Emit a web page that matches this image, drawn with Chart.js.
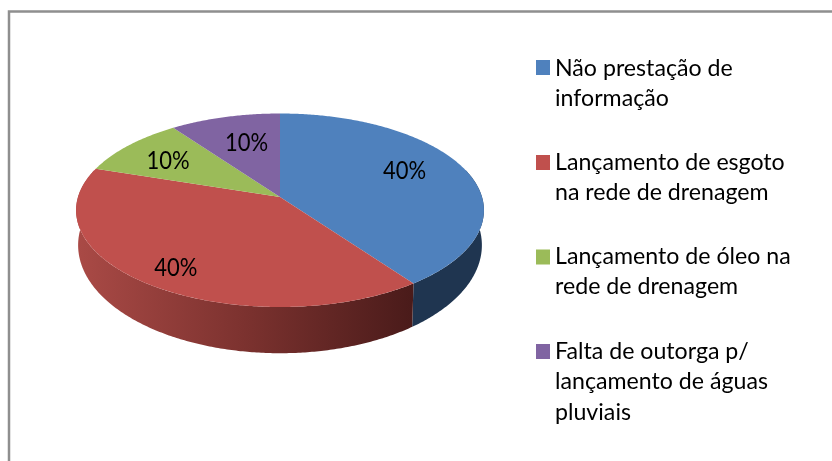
<!DOCTYPE html>
<html>
<head>
<meta charset="utf-8">
<style>html,body{margin:0;padding:0;background:#fff}canvas{display:block;filter:blur(0.35px)}</style>
<script src="https://cdn.jsdelivr.net/npm/chart.js@4/dist/chart.umd.min.js"></script>
</head>
<body>
<canvas id="c" width="832" height="461"></canvas>
<script>
const categories = ['Não prestação de informação','Lançamento de esgoto na rede de drenagem','Lançamento de óleo na rede de drenagem','Falta de outorga p/ lançamento de águas pluviais'];
const legendLines = [['Não prestação de','informação'],['Lançamento de esgoto','na rede de drenagem'],['Lançamento de óleo na','rede de drenagem'],['Falta de outorga p/','lançamento de águas','pluviais']];
const values = [40,40,10,10];
const colors = ['#4F81BD','#C0504D','#9BBB59','#8064A2'];

const FONT_FAMILY = 'Lato, "Open Sans", sans-serif';
const P = 0.137;
const TOP_DISC = {scale:1, tilt:0.47, cy:197};
const BOTTOM_DISC = {scale:0.99, tilt:0.53, cy:230.4};
const project = (el, angle, f, disc) => {
  const t = angle + Math.PI/2;
  const u = f*Math.sin(t), v = -f*Math.cos(t), w = 1 - P*v;
  return [el.x + el.outerRadius*disc.scale*u/w, disc.cy + el.outerRadius*disc.scale*disc.tilt*v/w];
};
const arcPoints = (el, a0, a1, disc) => {
  const n = Math.max(2, Math.ceil((a1-a0)/0.01)), pts = [];
  for (let i=0;i<=n;i++) pts.push(project(el, a0+(a1-a0)*i/n, 1, disc));
  return pts;
};
const tracePts = (ctx, pts, first) => pts.forEach((p,i)=> (i===0&&first) ? ctx.moveTo(p[0],p[1]) : ctx.lineTo(p[0],p[1]));
const squeezedText = (ctx, t, x, y, sx) => { ctx.save(); ctx.translate(x,y); ctx.scale(sx,1); ctx.fillText(t,0,0); ctx.restore(); };

const labelNudge = [[3,-8],[-21,17],[-11,-2],[4,0]];
const pie3d = {
  id:'pie3d',
  beforeDraw(chart){
    const ctx = chart.ctx;
    ctx.save();
    ctx.fillStyle='#fff'; ctx.fillRect(0,0,832,461);
    ctx.strokeStyle='#8f8f8f'; ctx.lineWidth=2.5;
    ctx.beginPath(); ctx.moveTo(9,461); ctx.lineTo(9,11.5); ctx.lineTo(832,11.5); ctx.stroke();
    ctx.restore();
  },
  beforeDatasetsDraw(chart){
    const ctx = chart.ctx, arcs = chart.getDatasetMeta(0).data;
    const B0 = 0, B1 = Math.PI;
    ctx.save();
    const grad = ctx.createLinearGradient(76,0,412,0);
    grad.addColorStop(0,'#AA4A46'); grad.addColorStop(0.5,'#7C322F'); grad.addColorStop(1,'#4A1B1A');
    const wallFill = ['#1F3550',grad,'#5d7035','#4c3b61'];
    arcs.forEach((el,i)=>{
      const lo = Math.max(el.startAngle,B0-0.3), hi = Math.min(el.endAngle,B1+0.3);
      if (hi<=lo) return;
      const top = arcPoints(el,lo,hi,TOP_DISC), bot = arcPoints(el,lo,hi,BOTTOM_DISC).reverse();
      ctx.beginPath(); tracePts(ctx,top,true); tracePts(ctx,bot,false); ctx.closePath();
      ctx.fillStyle = wallFill[i]; ctx.fill();
    });
    arcs.forEach((el,i)=>{
      ctx.beginPath();
      const [cx,cy] = project(el,0,0,TOP_DISC);
      ctx.moveTo(cx,cy);
      tracePts(ctx,arcPoints(el,el.startAngle,el.endAngle,TOP_DISC),false);
      ctx.closePath();
      ctx.fillStyle = el.options.backgroundColor; ctx.fill();
    });
    ctx.restore();
    return false;
  },
  afterDraw(chart){
    const ctx = chart.ctx, arcs = chart.getDatasetMeta(0).data;
    const total = values.reduce((a,b)=>a+b,0);
    ctx.save();
    ctx.fillStyle='#000'; ctx.font='25px '+FONT_FAMILY; ctx.textAlign='center'; ctx.textBaseline='middle';
    arcs.forEach((el,i)=>{
      const [x,y] = project(el,(el.startAngle+el.endAngle)/2,0.65,TOP_DISC);
      squeezedText(ctx, Math.round(values[i]/total*100)+'%', x+labelNudge[i][0], y+labelNudge[i][1], 0.88);
    });
    ctx.textAlign='left'; ctx.font='24px '+FONT_FAMILY;
    const swatchY = [67.5,162.5,257,351.5], textY = [68,162,256,351];
    legendLines.forEach((lines,i)=>{
      ctx.fillStyle=colors[i];
      ctx.fillRect(536,swatchY[i]-7.5,14,15);
      ctx.fillStyle='#000';
      lines.forEach((t,j)=>squeezedText(ctx,t,555,textY[i]+j*30.5,0.965));
    });
    ctx.restore();
  }
};

new Chart(document.getElementById('c'),{
  type:'pie',
  data:{labels:categories,datasets:[{data:values,backgroundColor:colors,borderWidth:0}]},
  options:{
    responsive:false,animation:false,
    layout:{padding:{left:77,right:349,top:0,bottom:57}},
    plugins:{legend:{display:false},tooltip:{enabled:false},title:{display:false}}
  },
  plugins:[pie3d]
});
</script>
</body>
</html>
